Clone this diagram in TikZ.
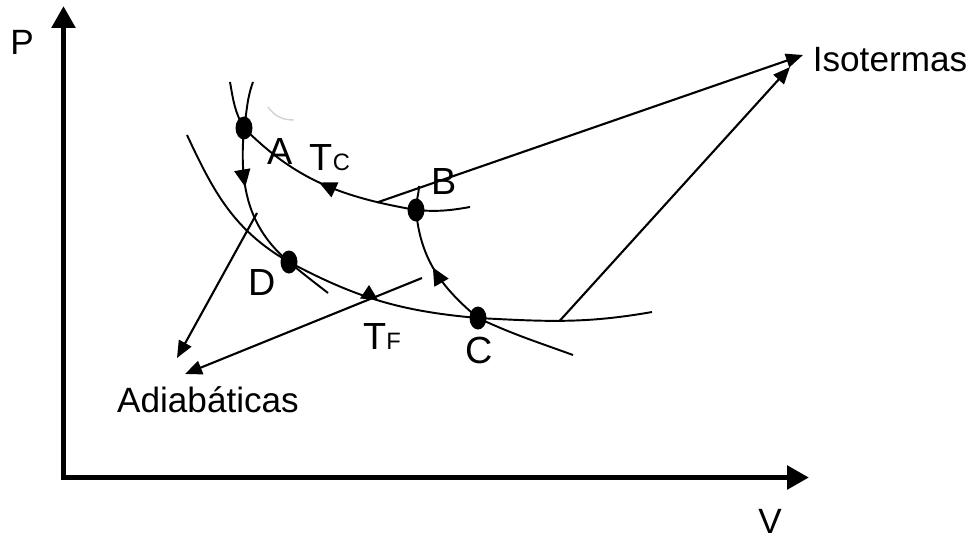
\documentclass[tikz,border=0pt]{standalone}
\usepackage{fontspec}
\setmainfont{Liberation Sans}
\usetikzlibrary{arrows.meta, decorations.markings, shapes.geometric}
\begin{document}
\begin{tikzpicture}[font=\fontsize{20}{24}\selectfont,
  axis/.style={line width=3.4pt},
  curve/.style={line width=1.1pt},
  note/.style={line width=1.2pt, -{Triangle[length=0.34cm, width=0.28cm]}},
  dot/.style={ellipse, fill=black, inner sep=0pt, minimum width=0.34cm, minimum height=0.46cm},
  lbl/.style={inner sep=1pt},
  state/.style={inner sep=1pt, font=\fontsize{21.5}{25}\selectfont},
  midarrow/.style={postaction={decorate}, decoration={markings, mark=at position #1 with {\arrow{Triangle[length=0.35cm, width=0.32cm]}}}}]
  \useasboundingbox (0,0) rectangle (19.46,10.76);
  % axes
  \coordinate (o) at (1.27,1.21);
  \coordinate (ptip) at (1.27,10.64);
  \coordinate (vtip) at (16.18,1.21);
  \draw[axis, {Triangle[length=0.44cm, width=0.46cm]}-{Triangle[length=0.44cm, width=0.46cm]}] (ptip) -- (o) -- (vtip);
  \node[lbl] (p) at (0.44,9.92) {P};
  \node[lbl] (v) at (15.40,0.34) {V};
  % states
  \node[dot] (a) at (4.88,8.20) {};
  \node[dot] (b) at (8.32,6.56) {};
  \node[dot] (c) at (9.56,4.40) {};
  \node[dot] (d) at (5.78,5.52) {};
  \coordinate (tc1) at (4.60,9.12);
  \coordinate (tc2) at (9.40,6.62);
  \coordinate (ad1) at (5.06,9.12);
  \coordinate (ad2) at (6.56,4.90);
  \coordinate (tf1) at (3.74,8.06);
  \coordinate (tf2) at (13.04,4.52);
  \coordinate (bc1) at (8.38,7.04);
  \coordinate (bc2) at (11.46,3.66);
  % T_C isotherm
  \draw[curve] (tc1) to[out=-80, in=120] (a.center);
  \draw[curve, midarrow=0.52] (b.center) to[out=170, in=-45] (a.center);
  \draw[curve] (b.center) to[out=-5, in=190] (tc2);
  % adiabat A-D
  \draw[curve] (ad1) to[out=-110, in=80] (a.center);
  \draw[curve, midarrow=0.40] (a.center) to[out=-95, in=140] (d.center);
  \draw[curve] (d.center) to[out=-40, in=142] (ad2);
  % T_F isotherm
  \draw[curve] (tf1) to[out=-65, in=150] (d.center);
  \draw[curve] (d.center) to[out=-28, in=175] (c.center);
  \draw[curve] (c.center) to[out=-3, in=190] (tf2);
  \fill (7.20,4.79) -- (7.56,4.76) -- (7.38,5.06) -- cycle;
  % adiabat B-C
  \draw[curve] (bc1) to[out=-92, in=90] (b.center);
  \draw[curve, midarrow=0.53] (c.center) to[out=140, in=-85] (b.center);
  \draw[curve] (c.center) to[out=-25, in=160] (bc2);
  \draw[gray!35, line width=0.8pt] (5.36,8.62) to[out=-55, in=180] (5.88,8.36);
  % labels
  \node[state] (la) at (5.60,7.72) {A};
  \node[state] (lb) at (8.88,7.12) {B};
  \node[state] (lc) at (9.58,3.76) {C};
  \node[state] (ld) at (5.24,5.10) {D};
  \node[state] (ltc) at (6.60,7.60) {T{\fontsize{13.5}{15}\selectfont C}};
  \node[state] (ltf) at (7.64,4.02) {T{\fontsize{13.5}{15}\selectfont F}};
  \node[lbl] (iso) at (17.80,9.56) {Isotermas};
  \node[lbl] (adi) at (4.16,2.76) {Adiabáticas};
  % pointers
  \coordinate (n1) at (7.54,6.71);
  \coordinate (n2) at (11.20,4.35);
  \coordinate (n3) at (5.14,6.50);
  \coordinate (n4) at (8.44,5.20);
  \coordinate (it1) at (16.06,9.66);
  \coordinate (it2) at (15.80,9.42);
  \coordinate (at1) at (3.54,3.60);
  \coordinate (at2) at (3.70,3.28);
  \draw[note] (n1) -- (it1);
  \draw[note] (n2) -- (it2);
  \draw[note] (n3) -- (at1);
  \draw[note] (n4) -- (at2);
\end{tikzpicture}
\end{document}
